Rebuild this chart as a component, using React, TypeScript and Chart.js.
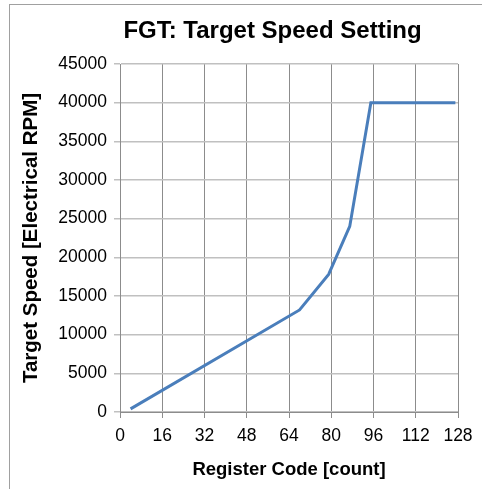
import React, { useEffect, useRef } from "react";
import { Chart, registerables } from "chart.js";

Chart.register(...registerables);

const chartTitle = "FGT: Target Speed Setting";
const xAxisTitle = "Register Code [count]";
const yAxisTitle = "Target Speed [Electrical RPM]";
const registerCodes = [4, 68, 79, 87, 95, 127];
const targetSpeeds = [400, 13200, 17800, 24000, 40000, 40000];

const titlePlugin = {
  id: "customTitle",
  afterDraw(chart: any) {
    const ctx = chart.ctx;
    ctx.save();
    ctx.font = "bold 24px 'Liberation Sans', Arial, sans-serif";
    ctx.fillStyle = "#000";
    ctx.textAlign = "center";
    ctx.textBaseline = "middle";
    ctx.fillText(chartTitle, 272.5, 31);
    ctx.restore();
  },
};

export default function App() {
  const ref = useRef<HTMLCanvasElement | null>(null);
  useEffect(() => {
    document.body.style.margin = "0";
    const font = "'Liberation Sans', Arial, sans-serif";
    const chart = new Chart(ref.current as HTMLCanvasElement, {
      type: "line",
      data: {
        datasets: [
          {
            data: registerCodes.map((x, i) => ({ x, y: targetSpeeds[i] })),
            borderColor: "#4a7ebb",
            borderWidth: 3,
            pointRadius: 0,
            tension: 0,
            fill: false,
          },
        ],
      },
      plugins: [titlePlugin],
      options: {
        animation: false,
        responsive: false,
        maintainAspectRatio: false,
        layout: { padding: { top: 64, right: 24, left: 0, bottom: 0 } },
        plugins: { legend: { display: false }, tooltip: { enabled: false }, title: { display: false } },
        scales: {
          x: {
            type: "linear",
            min: 0,
            max: 128,
            afterFit: (s: any) => {
              s.height = 77;
            },
            ticks: { stepSize: 16, color: "#000", font: { family: font, size: 17.5 }, padding: 8, maxRotation: 0 },
            grid: { color: "#8c8c8c", lineWidth: 1, tickLength: 6 },
            border: { color: "#8c8c8c", width: 1 },
            title: {
              display: true,
              text: xAxisTitle,
              color: "#000",
              font: { family: font, size: 18.5, weight: "bold" },
              padding: { top: 0, bottom: 8 },
            },
          },
          y: {
            min: 0,
            max: 45000,
            afterFit: (s: any) => {
              s.width = 120;
            },
            ticks: {
              stepSize: 5000,
              color: "#000",
              font: { family: font, size: 17.5 },
              padding: 7,
              callback: (v: any) => String(v),
            },
            grid: { color: "#c0c0c0", lineWidth: 1.5, tickLength: 6 },
            border: { color: "#8c8c8c", width: 1 },
            title: {
              display: true,
              text: yAxisTitle,
              color: "#000",
              font: { family: font, size: 20.5, weight: "bold" },
              padding: { top: 19, bottom: 0 },
            },
          },
        },
      },
    } as any);
    return () => chart.destroy();
  }, []);
  return (
    <div style={{ position: "relative", width: 482, height: 489, overflow: "hidden", background: "#fff" }}>
      <div
        style={{
          position: "absolute",
          left: 9,
          top: 4,
          width: 480,
          height: 490,
          borderTop: "1.5px solid #a0a0a0",
          borderLeft: "1.5px solid #a0a0a0",
        }}
      />
      <canvas ref={ref} width={482} height={489} style={{ position: "absolute", left: 0, top: 0 }} />
    </div>
  );
}
